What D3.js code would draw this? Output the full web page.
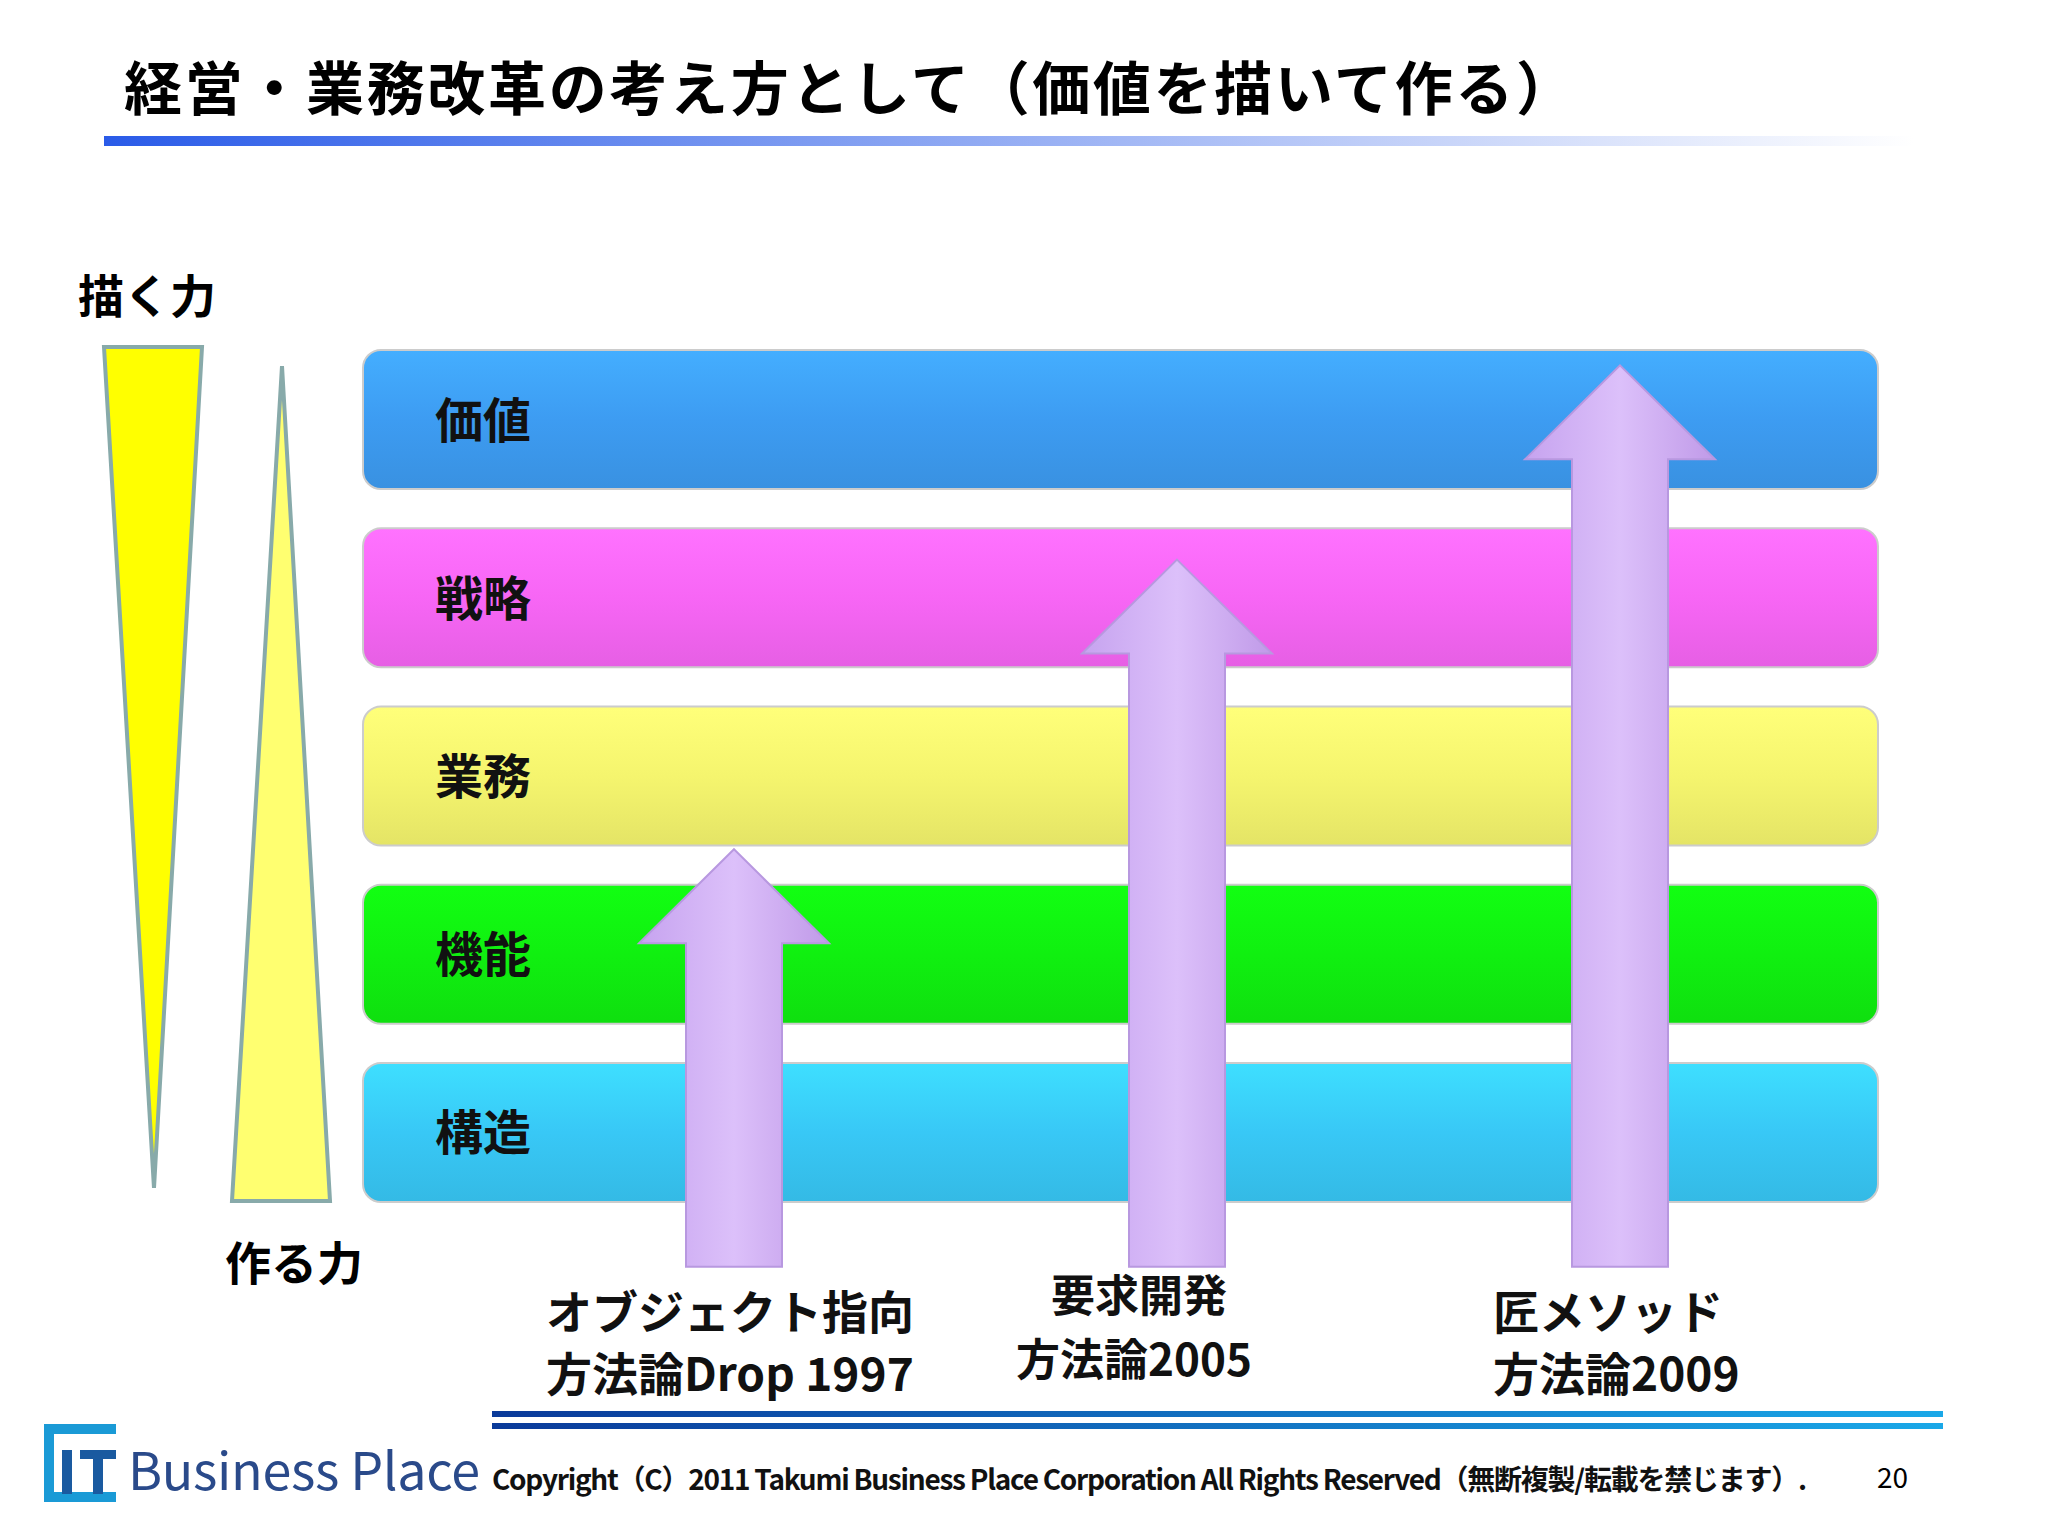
<!DOCTYPE html><html><head><meta charset="utf-8"><script src="https://cdn.jsdelivr.net/npm/d3@7"></script>
<style>body{margin:0;background:#fff}text{font-family:"Noto Sans CJK JP",sans-serif;font-weight:bold}</style></head><body><svg id="c" width="2048" height="1536"></svg>
<script>
const layers=["価値","戦略","業務","機能","構造"];
const layerColors=["#3d9cf2","#f766f5","#f5f56e","#10f010","#38c8f6"];
const methods=["オブジェクト指向\n方法論Drop 1997","要求開発\n方法論2005","匠メソッド\n方法論2009"];
const methodReach=[2.07,3.77,4.91];
const svg=d3.select("#c");
const defs=svg.append("defs");
svg.append("text").attr("x",124).attr("y",110).attr("font-size",58).attr("textLength",1450).text("経営・業務改革の考え方として（価値を描いて作る）");
const tg=defs.append("linearGradient").attr("id","tg");
tg.append("stop").attr("offset",0).attr("stop-color","#2a5be8");tg.append("stop").attr("offset",1).attr("stop-color","#fff");
svg.append("rect").attr("x",104).attr("y",136).attr("width",1810).attr("height",10).attr("fill","url(#tg)");
const y=d3.scaleBand().domain(layers).range([350,1202]).paddingInner(0.22);
const lv=d3.scaleLinear().domain([0,layers.length]).range([1202,350]);
const x=d3.scalePoint().domain(methods).range([734,1620]);
layers.forEach((l,i)=>{
 const g=defs.append("linearGradient").attr("id","lg"+i).attr("x1",0).attr("x2",0).attr("y1",0).attr("y2",1);
 const c=d3.color(layerColors[i]);
 g.append("stop").attr("offset",0).attr("stop-color",c.brighter(0.3));
 g.append("stop").attr("offset",0.5).attr("stop-color",c);
 g.append("stop").attr("offset",1).attr("stop-color",c.darker(0.2));
});
svg.selectAll(".band").data(layers).join("rect").attr("x",363).attr("width",1515)
 .attr("y",d=>y(d)).attr("height",y.bandwidth()).attr("rx",18).attr("fill",(d,i)=>`url(#lg${i})`)
 .attr("stroke","#ccc").attr("stroke-width",2);
svg.selectAll(".bl").data(layers).join("text").attr("x",435).attr("y",d=>y(d)+y.bandwidth()/2+18)
 .attr("font-size",48).attr("fill","#111").text(d=>d);
const ag=defs.append("linearGradient").attr("id","ag");
ag.append("stop").attr("offset",0).attr("stop-color","#c6a3ef");ag.append("stop").attr("offset",0.5).attr("stop-color","#dcc0fa");ag.append("stop").attr("offset",1).attr("stop-color","#c09ae8");
const bottom=lv(-0.38), sw=96, hw=190, hh=94;
methods.forEach((m,i)=>{
 const cx=x(m), top=lv(methodReach[i]);
 const p=[[cx,top],[cx+hw/2,top+hh],[cx+sw/2,top+hh],[cx+sw/2,bottom],[cx-sw/2,bottom],[cx-sw/2,top+hh],[cx-hw/2,top+hh]];
 svg.append("path").attr("d",d3.line()(p)+"Z").attr("fill","url(#ag)").attr("stroke","#b898e0").attr("stroke-width",2);
 const lines=m.split("\n");
 const lx=[546,1016,1493][i], ly=[1313,1296,1313][i];
 lines.forEach((t,j)=>svg.append("text").attr("x",j==0&&i==1?1051:lx).attr("y",ly+j*(i==1?64:62)+16)
  .attr("font-size",i==1?44:46).attr("fill","#111").text(t));
});
svg.append("path").attr("d","M104,347L202,347L154,1188Z").attr("fill","#ffff00").attr("stroke","#8aa").attr("stroke-width",4);
svg.append("path").attr("d","M282,366L330,1201L232,1201Z").attr("fill","#ffff70").attr("stroke","#8aa").attr("stroke-width",4);
svg.append("text").attr("x",78).attr("y",313).attr("font-size",46).text("描く力");
svg.append("text").attr("x",225).attr("y",1280).attr("font-size",46).text("作る力");
const fg=defs.append("linearGradient").attr("id","fg");
fg.append("stop").attr("offset",0).attr("stop-color","#0a3a9a");fg.append("stop").attr("offset",1).attr("stop-color","#1aa8e8");
svg.append("rect").attr("x",492).attr("y",1411).attr("width",1451).attr("height",6).attr("fill","url(#fg)");
svg.append("rect").attr("x",492).attr("y",1423).attr("width",1451).attr("height",6).attr("fill","url(#fg)");
svg.append("path").attr("d","M44,1424h72v10h-62v58h62v10h-72Z").attr("fill","#1a9ad6");
svg.append("rect").attr("x",62).attr("y",1450).attr("width",10).attr("height",44).attr("fill","#1a5aa0");
svg.append("rect").attr("x",80).attr("y",1450).attr("width",36).attr("height",9).attr("fill","#1a5aa0");
svg.append("rect").attr("x",93).attr("y",1450).attr("width",10).attr("height",44).attr("fill","#1a5aa0");
svg.append("text").attr("x",128).attr("y",1490).attr("font-size",52).attr("fill","#2a4a8a").attr("textLength",352).style("font-weight","normal").text("Business Place");
svg.append("text").attr("x",492).attr("y",1490).attr("font-size",28).attr("textLength",1315).attr("fill","#111").text("Copyright（C）2011 Takumi Business Place Corporation All Rights Reserved（無断複製/転載を禁じます）.");
svg.append("text").attr("x",1877).attr("y",1488).attr("font-size",28).style("font-weight","normal").text("20");
</script></body></html>
